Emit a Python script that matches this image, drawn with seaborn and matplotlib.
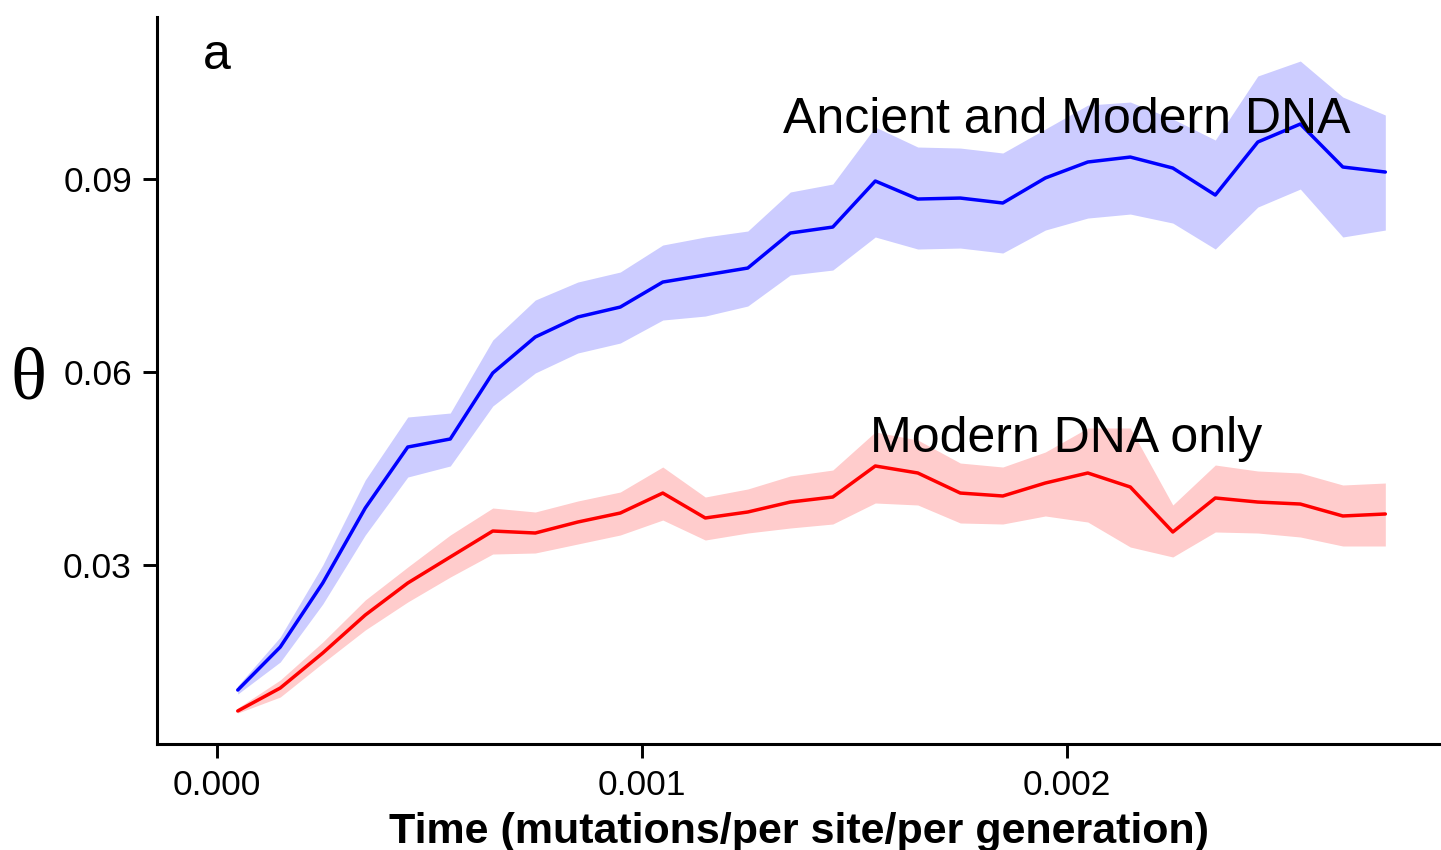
import numpy as np
import pandas as pd
import matplotlib
matplotlib.use("Agg")
import matplotlib.pyplot as plt
import seaborn as sns

# ---- data ----
time = [0.00005 + 0.0001 * i for i in range(28)]

ancient_mean = [0.01049, 0.01718, 0.02714, 0.03881, 0.04830, 0.04955, 0.05982, 0.06542,
                0.06853, 0.07008, 0.07397, 0.07506, 0.07615, 0.08160, 0.08253, 0.08969,
                0.08689, 0.08704, 0.08627, 0.09016, 0.09265, 0.09342, 0.09171, 0.08751,
                0.09576, 0.09856, 0.09187, 0.09109]
ancient_upper = [0.01112, 0.01874, 0.02994, 0.04317, 0.05297, 0.05359, 0.06495, 0.07117,
                 0.07397, 0.07553, 0.07973, 0.08098, 0.08191, 0.08798, 0.08922, 0.09809,
                 0.09498, 0.09482, 0.09405, 0.09778, 0.10151, 0.10198, 0.09934, 0.09607,
                 0.10603, 0.10836, 0.10276, 0.09996]
ancient_lower = [0.00987, 0.01485, 0.02387, 0.03461, 0.04363, 0.04535, 0.05468, 0.05982,
                 0.06293, 0.06448, 0.06806, 0.06868, 0.07024, 0.07506, 0.07584, 0.08098,
                 0.07911, 0.07926, 0.07849, 0.08206, 0.08393, 0.08455, 0.08315, 0.07911,
                 0.08564, 0.08844, 0.08098, 0.08206]

modern_mean = [0.00723, 0.01080, 0.01625, 0.02216, 0.02714, 0.03119, 0.03523, 0.03492,
               0.03663, 0.03803, 0.04114, 0.03726, 0.03819, 0.03974, 0.04052, 0.04535,
               0.04426, 0.04114, 0.04068, 0.04270, 0.04426, 0.04208, 0.03508, 0.04037,
               0.03974, 0.03943, 0.03757, 0.03788]
modern_upper = [0.00769, 0.01205, 0.01796, 0.02450, 0.02963, 0.03461, 0.03881, 0.03819,
                0.03990, 0.04130, 0.04519, 0.04052, 0.04177, 0.04379, 0.04472, 0.05064,
                0.04939, 0.04581, 0.04519, 0.04752, 0.05126, 0.05126, 0.03928, 0.04550,
                0.04457, 0.04426, 0.04239, 0.04270]
modern_lower = [0.00691, 0.00940, 0.01469, 0.01983, 0.02419, 0.02807, 0.03165, 0.03181,
                0.03321, 0.03461, 0.03694, 0.03383, 0.03492, 0.03570, 0.03632, 0.03959,
                0.03928, 0.03648, 0.03632, 0.03757, 0.03663, 0.03274, 0.03119, 0.03508,
                0.03492, 0.03430, 0.03290, 0.03290]

series_names = ["Ancient and Modern DNA", "Modern DNA only"]
x_ticks = [0.000, 0.001, 0.002]
x_tick_labels = ["0.000", "0.001", "0.002"]
y_ticks = [0.03, 0.06, 0.09]
y_tick_labels = ["0.03", "0.06", "0.09"]

# ---- style ----
sns.set_style("ticks")
plt.rcParams["font.family"] = ["Liberation Sans", "DejaVu Sans"]
plt.rcParams["text.color"] = "black"
plt.rcParams["axes.labelcolor"] = "black"
plt.rcParams["xtick.color"] = "black"
plt.rcParams["ytick.color"] = "black"

fig = plt.figure(figsize=(14.41, 8.5), dpi=100)
ax = fig.add_axes([0.10895, 0.1247, 0.89105, 0.8549])

df = pd.DataFrame({
    "time": time * 2,
    "theta": ancient_mean + modern_mean,
    "series": [series_names[0]] * len(time) + [series_names[1]] * len(time),
})

ax.fill_between(time, ancient_lower, ancient_upper, color="#CCCCFF", linewidth=0, zorder=1)
ax.fill_between(time, modern_lower, modern_upper, color="#FFCCCC", linewidth=0, zorder=1)

sns.lineplot(data=df, x="time", y="theta", hue="series",
             palette={series_names[0]: "#0000FF", series_names[1]: "#FF0000"},
             linewidth=2.5, legend=False, ax=ax, zorder=2)

ax.set_xlim(-0.00014, 0.002881)
ax.set_ylim(0.00209, 0.11516)

ax.set_xticks(x_ticks)
ax.set_xticklabels(x_tick_labels)
ax.set_yticks(y_ticks)
ax.set_yticklabels(y_tick_labels)
ax.tick_params(axis="both", length=10, width=2.1, color="black",
               labelsize=25.5, labelcolor="black", pad=8)

for side in ["top", "right"]:
    ax.spines[side].set_visible(False)
for side in ["left", "bottom"]:
    ax.spines[side].set_linewidth(2.2)
    ax.spines[side].set_color("black")

ax.set_xlabel("Time (mutations/per site/per generation)", fontsize=31,
              fontweight="bold", labelpad=7, color="black")
ax.set_ylabel("θ", rotation=0, fontsize=54, color="black",
              family=["Liberation Serif", "DejaVu Serif"])
ax.yaxis.set_label_coords(-0.1, 0.5)
ax.yaxis.label.set_verticalalignment("center")

ax.text(0.002, 0.0972, series_names[0], fontsize=36, ha="center", va="baseline",
        color="black", zorder=3)
ax.text(0.002, 0.0475, series_names[1], fontsize=36, ha="center", va="baseline",
        color="black", zorder=3)
ax.text(0.0358, 0.9285, "a", transform=ax.transAxes, fontsize=36, ha="left",
        va="baseline", color="black")

fig.savefig("out.png", dpi=100)
